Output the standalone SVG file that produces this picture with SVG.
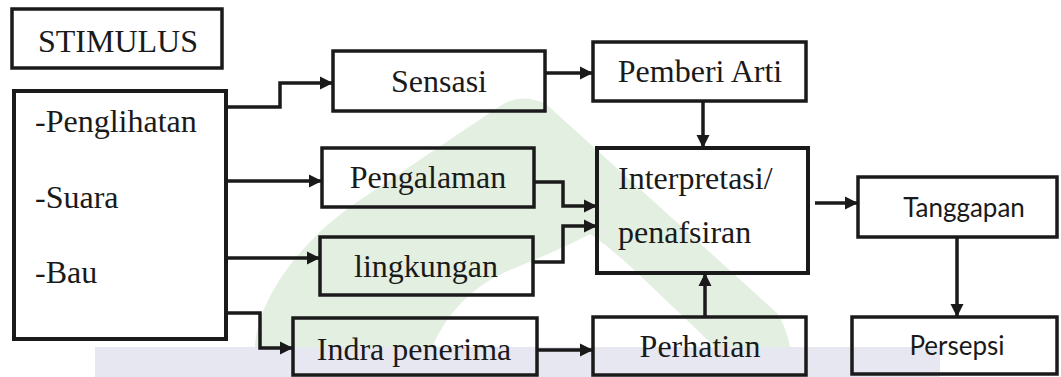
<svg xmlns="http://www.w3.org/2000/svg" width="1061" height="377" viewBox="0 0 1061 377">
<style>
.box{fill:none;stroke:#1a1a1a;stroke-width:3.5}
.conn path{fill:none;stroke:#1a1a1a;stroke-width:3.5;marker-end:url(#arr)}
</style>
<defs>
<marker id="arr" markerUnits="userSpaceOnUse" markerWidth="14" markerHeight="14" refX="13" refY="7" orient="auto">
<path d="M0,0.5 L13,7 L0,13.5 Z" fill="#1a1a1a"/>
</marker>
</defs>
<rect width="1061" height="377" fill="#ffffff"/>
<g id="watermark">
<path d="M255,347 C257,300 300,240 360,200 L500,106 Q522,92 546,104 L777,313 Q786,326 790,347 L715,347 L650,285 Q612,248 590,234 Q560,250 505,272 Q455,295 432,347 Z" fill="#e2efe1"/>
<rect x="95" y="347" width="845" height="30" fill="#e7e7f1"/>
</g>
<g font-family="'Liberation Serif','Times New Roman',serif" font-size="32" fill="#1a1a1a">
<g id="stimulus-label">
<rect class="box" x="12" y="9" width="210" height="59"/>
<text x="38" y="52">STIMULUS</text>
</g>
<g id="stimulus">
<rect class="box" x="14" y="91" width="212" height="248" style="stroke-width:4"/>
<text x="35" y="132">-Penglihatan</text>
<text x="35" y="208">-Suara</text>
<text x="35" y="283">-Bau</text>
</g>
<g id="sensasi">
<rect class="box" x="333" y="51" width="212" height="60"/>
<text x="439" y="92" text-anchor="middle">Sensasi</text>
</g>
<g id="pemberi-arti">
<rect class="box" x="593" y="42" width="213" height="59"/>
<text x="700" y="82" text-anchor="middle">Pemberi Arti</text>
</g>
<g id="pengalaman">
<rect class="box" x="322" y="148" width="212" height="59"/>
<text x="428" y="188" text-anchor="middle">Pengalaman</text>
</g>
<g id="lingkungan">
<rect class="box" x="320" y="237" width="213" height="58"/>
<text x="426" y="277" text-anchor="middle">lingkungan</text>
</g>
<g id="interpretasi">
<rect class="box" x="597" y="148" width="211" height="125" style="stroke-width:4"/>
<text x="618" y="189">Interpretasi/</text>
<text x="618" y="243">penafsiran</text>
</g>
<g id="indra-penerima">
<rect class="box" x="293" y="318" width="244" height="57"/>
<text x="414" y="360" text-anchor="middle">Indra penerima</text>
</g>
<g id="perhatian">
<rect class="box" x="593" y="317" width="213" height="58"/>
<text x="700" y="357" text-anchor="middle">Perhatian</text>
</g>
</g>
<g font-family="Lato,'Open Sans',sans-serif" font-size="26" fill="#1a1a1a">
<g id="tanggapan">
<rect class="box" x="858" y="177" width="199" height="60"/>
<text x="964" y="217" text-anchor="middle">Tanggapan</text>
</g>
<g id="persepsi">
<rect class="box" x="852" y="317" width="205" height="57"/>
<text x="957" y="355" text-anchor="middle">Persepsi</text>
</g>
</g>
<g id="connectors" class="conn">
<path d="M226,107 H280 V83 H333"/>
<path d="M226,181 H322"/>
<path d="M226,258 H320"/>
<path d="M226,313 H260 V348 H293"/>
<path d="M545,73 H593"/>
<path d="M534,182 H563 V206 H597"/>
<path d="M533,262 H563 V226 H597"/>
<path d="M703,101 V148"/>
<path d="M537,350 H593"/>
<path d="M705,317 V273"/>
<path d="M815,203 H858"/>
<path d="M957,237 V317"/>
</g>
</svg>
